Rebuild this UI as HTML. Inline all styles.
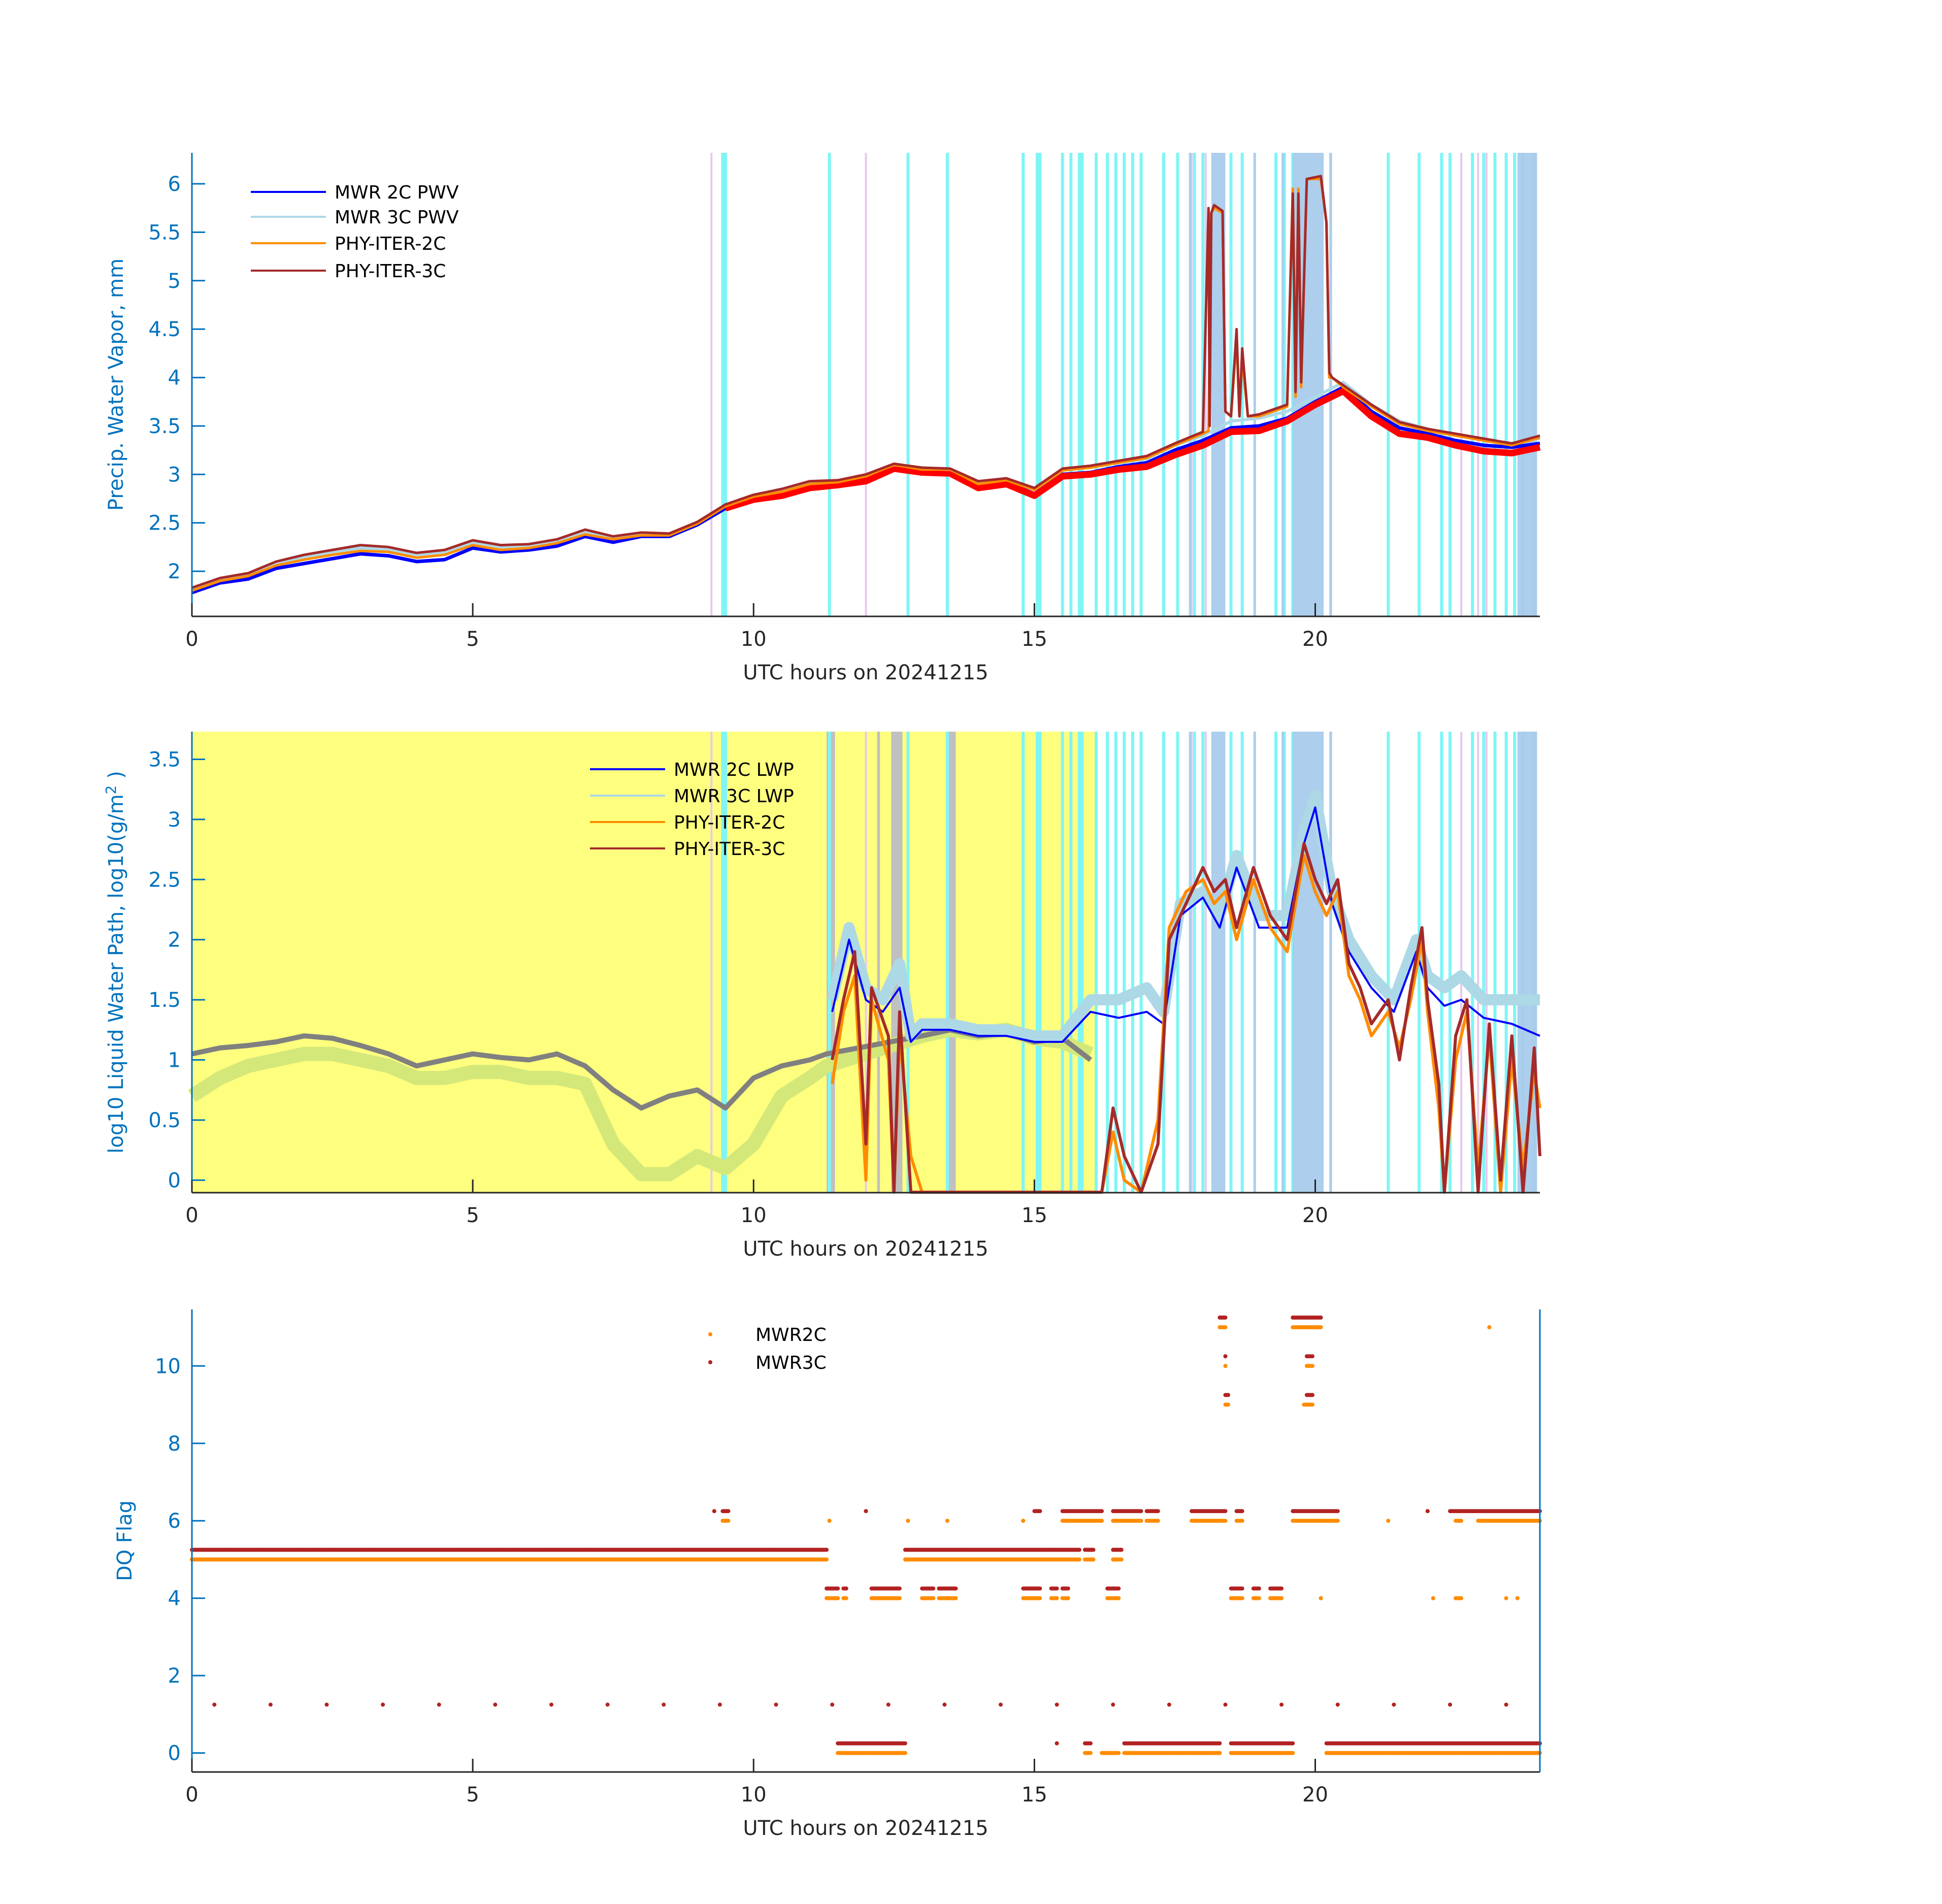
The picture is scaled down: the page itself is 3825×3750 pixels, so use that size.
<!DOCTYPE html>
<html><head><meta charset="utf-8"><style>
body{margin:0;background:#fff}
svg{display:block;font-family:"DejaVu Sans","Liberation Sans",sans-serif}
</style></head><body>
<svg id="fig" xmlns="http://www.w3.org/2000/svg" width="3825" height="3750" viewBox="0 0 3825 3750"></svg>
<script>
// ---------- data ----------
const pwvT = [0,0.5,1,1.5,2,2.5,3,3.5,4,4.5,5,5.5,6,6.5,7,7.5,8,8.5,9,9.5,10,10.5,11,11.5,12,12.5,13,13.5,14,14.5,15,15.5,16,16.5,17,17.5,18,18.5,19,19.5,20,20.5,21,21.5,22,22.5,23,23.5,24];
const pwv2C = [1.78,1.88,1.92,2.03,2.08,2.13,2.18,2.16,2.1,2.12,2.24,2.2,2.22,2.26,2.36,2.3,2.36,2.36,2.48,2.65,2.75,2.8,2.88,2.9,2.96,3.08,3.04,3.03,2.88,2.92,2.8,3.0,3.02,3.08,3.12,3.25,3.35,3.48,3.5,3.58,3.75,3.9,3.65,3.48,3.42,3.35,3.3,3.28,3.32];
const pwv3C = [1.82,1.92,1.97,2.08,2.15,2.2,2.24,2.22,2.17,2.2,2.3,2.25,2.26,2.3,2.4,2.34,2.38,2.38,2.5,2.68,2.78,2.84,2.92,2.93,2.99,3.1,3.06,3.05,2.92,2.95,2.85,3.05,3.08,3.12,3.16,3.3,3.4,3.55,3.58,3.65,3.8,3.95,3.72,3.55,3.47,3.4,3.36,3.32,3.37];
const pwvRedT = [9.5,10,10.5,11,11.5,12,12.5,13,13.5,14,14.5,15,15.5,16,16.5,17,17.5,18,18.5,19,19.5,20,20.5,21,21.5,22,22.5,23,23.5,24];
const pwvRed = [2.65,2.74,2.78,2.86,2.89,2.93,3.06,3.02,3.01,2.86,2.9,2.78,2.98,3.0,3.05,3.08,3.2,3.3,3.44,3.45,3.55,3.72,3.86,3.6,3.42,3.38,3.3,3.24,3.22,3.28];
const phy2CT = [0,0.5,1,1.5,2,2.5,3,3.5,4,4.5,5,5.5,6,6.5,7,7.5,8,8.5,9,9.5,10,10.5,11,11.5,12,12.5,13,13.5,14,14.5,15,15.5,16,16.5,17,17.5,18,18.1,18.15,18.2,18.35,18.4,18.5,18.6,18.65,18.7,18.8,19,19.5,19.6,19.65,19.7,19.75,19.85,20.1,20.2,20.25,20.3,20.5,21,21.5,22,22.5,23,23.5,24];
const phy2C = [1.8,1.9,1.95,2.06,2.12,2.17,2.21,2.2,2.14,2.17,2.27,2.22,2.24,2.29,2.38,2.33,2.37,2.37,2.49,2.67,2.77,2.82,2.9,2.92,2.98,3.1,3.05,3.05,2.9,2.94,2.84,3.04,3.07,3.12,3.17,3.3,3.42,3.45,5.7,5.75,5.7,3.65,3.6,4.4,3.6,4.2,3.6,3.6,3.7,5.95,3.8,5.95,3.9,6.05,6.05,5.6,4.0,4.0,3.9,3.7,3.52,3.45,3.4,3.35,3.3,3.38];
const phy3CT = [0,0.5,1,1.5,2,2.5,3,3.5,4,4.5,5,5.5,6,6.5,7,7.5,8,8.5,9,9.5,10,10.5,11,11.5,12,12.5,13,13.5,14,14.5,15,15.5,16,16.5,17,17.5,18,18.1,18.12,18.15,18.2,18.35,18.4,18.5,18.6,18.65,18.7,18.8,19,19.5,19.6,19.65,19.7,19.75,19.85,20.1,20.2,20.25,20.3,20.5,21,21.5,22,22.5,23,23.5,24];
const phy3C = [1.83,1.93,1.98,2.1,2.17,2.22,2.27,2.25,2.19,2.22,2.32,2.27,2.28,2.33,2.43,2.36,2.4,2.39,2.51,2.69,2.79,2.85,2.93,2.94,3.0,3.11,3.07,3.06,2.93,2.96,2.86,3.06,3.09,3.14,3.19,3.32,3.44,5.75,3.5,5.7,5.78,5.72,3.65,3.6,4.5,3.6,4.3,3.6,3.62,3.72,5.9,3.85,5.9,3.95,6.05,6.08,5.6,4.05,4.0,3.92,3.72,3.54,3.47,3.42,3.37,3.32,3.4];

const cyanLines = [9.45,9.5,11.35,12.75,13.45,14.8,15.05,15.1,15.5,15.65,15.8,15.85,16.1,16.3,16.45,16.6,16.75,16.9,17.3,17.55,17.85,18.0,18.5,18.7,19.3,19.45,19.6,21.3,21.85,22.25,22.4,22.8,23.0,23.2,23.4,23.55,23.7,23.9];
const blueBandStart = [18.15,19.6,20.25,23.6,17.75,18.9,19.4];
const blueBandEnd = [18.4,20.15,20.3,23.95,17.78,18.93,19.43];
const pinkLines = [9.25,12.0,17.8,18.05,22.6,22.9,23.05];
const grayBandStart = [11.3,12.45,13.45,12.2];
const grayBandEnd = [11.45,12.65,13.6,12.25];
const yellowEnd = 16.1;

const lwpGrayT = [0,0.5,1,1.5,2,2.5,3,3.5,4,4.5,5,5.5,6,6.5,7,7.5,8,8.5,9,9.5,10,10.5,11,11.3,13,13.5,14,14.5,15,15.5,16];
const lwpGray = [1.05,1.1,1.12,1.15,1.2,1.18,1.12,1.05,0.95,1.0,1.05,1.02,1.0,1.05,0.95,0.75,0.6,0.7,0.75,0.6,0.85,0.95,1.0,1.05,1.2,1.25,1.2,1.22,1.15,1.18,1.0];
const lwpGreenT = [0,0.5,1,1.5,2,2.5,3,3.5,4,4.5,5,5.5,6,6.5,7,7.5,8,8.5,9,9.5,10,10.5,11,11.3,13,13.5,14,14.5,15,15.5,16];
const lwpGreen = [0.7,0.85,0.95,1.0,1.05,1.05,1.0,0.95,0.85,0.85,0.9,0.9,0.85,0.85,0.8,0.3,0.05,0.05,0.2,0.1,0.3,0.7,0.85,0.95,1.2,1.25,1.22,1.25,1.18,1.15,1.05];
const lwpT = [11.4,11.7,12.0,12.3,12.6,12.8,13.0,13.5,14,14.5,15,15.5,16,16.5,17,17.3,17.6,18,18.3,18.6,19,19.5,19.8,20,20.3,20.6,21,21.4,21.8,22,22.3,22.6,23,23.5,24];
const lwp3C = [1.5,2.1,1.6,1.5,1.8,1.2,1.3,1.3,1.25,1.25,1.2,1.2,1.5,1.5,1.6,1.4,2.3,2.4,2.2,2.7,2.2,2.2,2.9,3.2,2.4,2.0,1.7,1.5,2.0,1.7,1.6,1.7,1.5,1.5,1.5];
const lwp2C = [1.4,2.0,1.5,1.4,1.6,1.15,1.25,1.25,1.2,1.2,1.15,1.15,1.4,1.35,1.4,1.3,2.2,2.35,2.1,2.6,2.1,2.1,2.8,3.1,2.3,1.9,1.6,1.4,1.9,1.6,1.45,1.5,1.35,1.3,1.2];
const phyLwpT = [11.4,11.6,11.8,12.0,12.1,12.4,12.5,12.6,12.8,13.0,16.2,16.4,16.6,16.9,17.2,17.4,17.7,18,18.2,18.4,18.6,18.9,19.2,19.5,19.8,20,20.2,20.4,20.6,20.8,21,21.3,21.5,21.7,21.9,22.0,22.2,22.3,22.5,22.7,22.9,23.1,23.3,23.5,23.7,23.9,24];
const phyLwp3C = [1.0,1.5,1.9,0.3,1.6,1.2,-0.1,1.4,-0.1,-0.1,-0.1,0.6,0.2,-0.1,0.3,2.0,2.3,2.6,2.4,2.5,2.1,2.6,2.2,2.0,2.8,2.5,2.3,2.5,1.8,1.6,1.3,1.5,1.0,1.6,2.1,1.5,0.8,-0.1,1.2,1.5,-0.1,1.3,0.0,1.2,-0.1,1.1,0.2];
const phyLwp2C = [0.8,1.4,1.7,0.0,1.5,1.0,-0.1,1.2,0.2,-0.1,-0.1,0.4,0.0,-0.1,0.5,2.1,2.4,2.5,2.3,2.4,2.0,2.5,2.1,1.9,2.7,2.4,2.2,2.4,1.7,1.5,1.2,1.4,1.1,1.5,2.0,1.4,0.6,-0.1,1.0,1.4,0.1,1.2,-0.1,1.0,0.1,0.9,0.6];

// DQ flag segments: start, end, flag
const dq2CStart = [0,12.7,15.9,16.4,11.3,11.6,12.1,13.0,13.3,14.8,15.3,15.5,16.3,18.5,18.9,19.2,20.1,22.1,22.5,23.4,23.6,9.45,15.5,16.4,17.0,17.8,18.6,19.6,22.5,22.9,11.5,15.9,16.2,16.6,18.5,20.2,18.3,19.6,23.1,18.4,19.8,18.4,19.85,11.35,12.75,13.45,14.8,21.3];
const dq2CEnd   = [11.3,15.8,16.05,16.55,11.5,11.65,12.6,13.2,13.6,15.1,15.4,15.6,16.5,18.7,19.0,19.4,20.1,22.1,22.6,23.4,23.6,9.55,16.2,16.9,17.2,18.4,18.7,20.4,22.6,24,12.7,16.0,16.5,18.3,19.6,24,18.4,20.1,23.1,18.45,19.95,18.4,19.95,11.35,12.75,13.45,14.8,21.3];
const dq2CFlag  = [5,5,5,5,4,4,4,4,4,4,4,4,4,4,4,4,4,4,4,4,4,6,6,6,6,6,6,6,6,6,0,0,0,0,0,0,11,11,11,9,9,10,10,6,6,6,6,6];
const dq3CStart = [0,12.7,15.9,16.4,11.3,11.6,12.1,13.0,13.3,14.8,15.3,15.5,16.3,18.5,18.9,19.2,9.3,9.45,12.0,15.0,15.5,16.4,17.0,17.8,18.6,19.6,22.0,22.4,11.5,15.4,15.9,16.6,18.5,20.2,18.3,19.6,18.4,19.85,18.4,19.85];
const dq3CEnd   = [11.3,15.8,16.05,16.55,11.5,11.65,12.6,13.2,13.6,15.1,15.4,15.6,16.5,18.7,19.0,19.4,9.3,9.55,12.0,15.1,16.2,16.9,17.2,18.4,18.7,20.4,22.0,24,12.7,15.4,16.0,18.3,19.6,24,18.4,20.1,18.45,19.95,18.4,19.95];
const dq3CFlag  = [5,5,5,5,4,4,4,4,4,4,4,4,4,4,4,4,6,6,6,6,6,6,6,6,6,6,6,6,0,0,0,0,0,0,11,11,9,9,10,10];
const dq3CSparseT = [0.4,1.4,2.4,3.4,4.4,5.4,6.4,7.4,8.4,9.4,10.4,11.4,12.4,13.4,14.4,15.4,16.4,17.4,18.4,19.4,20.4,21.4,22.4,23.4];
const dq3CSparseFlag = [1,1,1,1,1,1,1,1,1,1,1,1,1,1,1,1,1,1,1,1,1,1,1,1];

const xTicks = [0,5,10,15,20];
const y1Ticks = [2,2.5,3,3.5,4,4.5,5,5.5,6];
const y2Ticks = [0,0.5,1,1.5,2,2.5,3,3.5];
const y3Ticks = [0,2,4,6,8,10];

// ---------- drawing ----------
const NS = 'http://www.w3.org/2000/svg';
const svg = document.getElementById('fig');
function mk(tag, attrs, parent){ const e=document.createElementNS(NS,tag); for(const k in attrs) e.setAttribute(k,attrs[k]); (parent||svg).appendChild(e); return e; }
const X0=378, X1=3033;
function makeAxis(top,bottom,ymin,ymax){ return {top,bottom,x:t=>X0+(t/24)*(X1-X0),y:v=>bottom-(v-ymin)/(ymax-ymin)*(bottom-top)}; }
const A1 = makeAxis(301,1214,1.534,6.32);
const A2 = makeAxis(1441,2349,-0.104,3.73);
const A3 = makeAxis(2579,3490,-0.49,11.46);

function linePath(ax,ts,vs){ let d=''; let pen=false; for(let i=0;i<ts.length;i++){ if(vs[i]==null||isNaN(vs[i])){pen=false;continue;} const v=Math.max(vs[i],-0.1); d+=(pen?'L':'M')+ax.x(ts[i]).toFixed(1)+' '+ax.y(v).toFixed(1); pen=true;} return d; }
function series(ax,ts,vs,color,w,name,g){ const p=mk('path',{d:linePath(ax,ts,vs),fill:'none',stroke:color,'stroke-width':w,'stroke-linejoin':'round'},g);
  
  
  return p; }
function vbands(ax,g){
  cyanLines.forEach(t=>{ const r=mk('rect',{x:ax.x(t)-3,y:ax.top,width:6,height:ax.bottom-ax.top,fill:'#7ff5f5'},g);
    
     });
  pinkLines.forEach(t=>{ const r=mk('rect',{x:ax.x(t)-2,y:ax.top,width:4,height:ax.bottom-ax.top,fill:'#e8c8ec'},g);
    
     });
  blueBandStart.forEach((s,i)=>{ const r=mk('rect',{x:ax.x(s),y:ax.top,width:Math.max(5,ax.x(blueBandEnd[i])-ax.x(s)),height:ax.bottom-ax.top,fill:'#a9cbeb',opacity:0.95},g);
    
     });
}
function axes(ax,ticks,labelText,ylabelX,rightAxis){
  const g=mk('g',{});
  
  
  mk('line',{x1:X0,y1:ax.bottom,x2:X1,y2:ax.bottom,stroke:'#262626','stroke-width':3},g);
  mk('line',{x1:X0,y1:ax.top,x2:X0,y2:ax.bottom,stroke:'#0072bd','stroke-width':3},g);
  if(rightAxis) mk('line',{x1:X1,y1:ax.top,x2:X1,y2:ax.bottom,stroke:'#0072bd','stroke-width':3},g);
  xTicks.forEach(t=>{ mk('line',{x1:ax.x(t),y1:ax.bottom,x2:ax.x(t),y2:ax.bottom-26,stroke:'#262626','stroke-width':3},g);
    const tx=mk('text',{x:ax.x(t),y:ax.bottom+58,'font-size':40,fill:'#262626','text-anchor':'middle'},g); tx.textContent=t;
    
     });
  ticks.forEach(v=>{ mk('line',{x1:X0,y1:ax.y(v),x2:X0+26,y2:ax.y(v),stroke:'#0072bd','stroke-width':3},g);
    const tx=mk('text',{x:X0-22,y:ax.y(v)+14,'font-size':40,fill:'#0072bd','text-anchor':'end'},g); tx.textContent=v;
    
     });
  const xl=mk('text',{x:1705,y:ax.bottom+124,'font-size':40,fill:'#262626','text-anchor':'middle'},g); xl.textContent='UTC hours on 20241215';
  
  
  const cy=(ax.top+ax.bottom)/2;
  const yl=mk('text',{x:ylabelX,y:cy,'font-size':40,fill:'#0072bd','text-anchor':'middle',transform:`rotate(-90 ${ylabelX} ${cy})`},g);
  yl.innerHTML=labelText;
  
  
}
function legend(x,ys,labels,colors,dots){
  const g=mk('g',{});
  
  
  labels.forEach((l,i)=>{
    if(dots) mk('circle',{cx:x+10,cy:ys[i],r:4,fill:colors[i]},g);
    else mk('line',{x1:x,y1:ys[i],x2:x+148,y2:ys[i],stroke:colors[i],'stroke-width':4},g);
    const t=mk('text',{x:dots?x+99:x+165,y:ys[i]+13,'font-size':36,fill:'#000'},g); t.textContent=l;
    
    
  });
}

// Panel 1
(function(){
  const g=mk('g',{});  
  vbands(A1,g);
  series(A1,pwvT,pwv2C,'#0000ff',7,'mwr-2c-pwv-line',g);
  series(A1,pwvRedT,pwvRed,'#ff0000',13,'pwv-red-line',g);
  series(A1,pwvT,pwv3C,'#add8e6',6,'mwr-3c-pwv-line',g);
  series(A1,phy2CT,phy2C,'#ff8c00',5,'phy-iter-2c-line',g);
  series(A1,phy3CT,phy3C,'#a52a2a',5,'phy-iter-3c-line',g);
  axes(A1,y1Ticks,'Precip. Water Vapor, mm',242,false);
  legend(494,[378,427,479,533],['MWR 2C PWV','MWR 3C PWV','PHY-ITER-2C','PHY-ITER-3C'],['#0000ff','#add8e6','#ff8c00','#a52a2a'],false);
})();

// Panel 2
(function(){
  const g=mk('g',{});  
  const yb=mk('rect',{x:X0,y:A2.top,width:A2.x(yellowEnd)-X0,height:A2.bottom-A2.top,fill:'#ffff7f'},g);
   
  grayBandStart.forEach((s,i)=>{ const r=mk('rect',{x:A2.x(s),y:A2.top,width:A2.x(grayBandEnd[i])-A2.x(s),height:A2.bottom-A2.top,fill:'#c0c0c0'},g);
      });
  vbands(A2,g);
  series(A2,lwpGreenT,lwpGreen,'#d4e87a',28,'lwp-green-line',g);
  series(A2,lwpGrayT,lwpGray,'#808080',10,'lwp-gray-line',g);
  series(A2,lwpT,lwp3C,'#add8e6',22,'mwr-3c-lwp-line',g);
  series(A2,lwpT,lwp2C,'#0000ff',4,'mwr-2c-lwp-line',g);
  series(A2,phyLwpT,phyLwp2C,'#ff8c00',6,'phy-iter-2c-lwp-line',g);
  series(A2,phyLwpT,phyLwp3C,'#a52a2a',6,'phy-iter-3c-lwp-line',g);
  axes(A2,y2Ticks,'log10 Liquid Water Path, log10(g/m<tspan dy="-14" font-size="28">2</tspan><tspan dy="14"> )</tspan>',242,false);
  legend(1162,[1515,1567,1619,1671],['MWR 2C LWP','MWR 3C LWP','PHY-ITER-2C','PHY-ITER-3C'],['#0000ff','#add8e6','#ff8c00','#a52a2a'],false);
})();

// Panel 3
(function(){
  const g=mk('g',{});  
  function segDots(starts,ends,flags,off,color,name){
    starts.forEach((s,i)=>{ const e=ends[i]; const n=Math.max(1,Math.round((e-s)/0.02));
      for(let k=0;k<=n;k++){ const t=s+(e-s)*k/n; const c=mk('circle',{cx:A3.x(t).toFixed(1),cy:A3.y(flags[i]+off).toFixed(1),r:4,fill:color},g);
        
         } });
  }
  segDots(dq2CStart,dq2CEnd,dq2CFlag,0,'#ff8c00','dq-point-mwr2c');
  segDots(dq3CStart,dq3CEnd,dq3CFlag,0.25,'#b22222','dq-point-mwr3c');
  dq3CSparseT.forEach((t,i)=>{ const c=mk('circle',{cx:A3.x(t),cy:A3.y(dq3CSparseFlag[i]+0.25),r:4,fill:'#b22222'},g);
    
     });
  axes(A3,y3Ticks,'DQ Flag',259,true);
  legend(1389,[2628,2683],['MWR2C','MWR3C'],['#ff8c00','#b22222'],true);
})();
</script>
</body></html>
